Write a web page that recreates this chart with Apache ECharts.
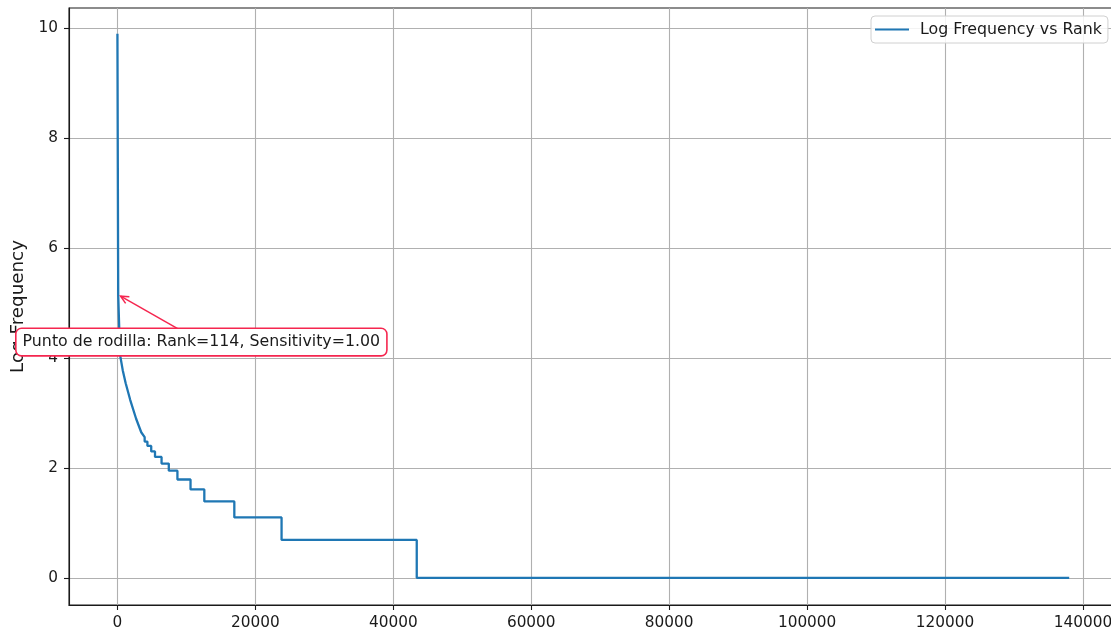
<!DOCTYPE html>
<html>
<head>
<meta charset="utf-8">
<title>Log Frequency vs Rank</title>
<script src="https://cdn.jsdelivr.net/npm/echarts@6/dist/echarts.min.js"></script>
<style>
  html, body { margin: 0; padding: 0; background: #ffffff; }
  #chart { width: 1111px; height: 631px; }
</style>
</head>
<body>
<div id="chart"></div>
<script>
// Head of the rank/frequency curve (rank, natural log of frequency)
const headRanks   = [1,   114,  380,  770,  1200, 1850, 2700, 3450, 3950];
const headLogFreq = [9.9, 5.15, 4.06, 3.78, 3.54, 3.24, 2.90, 2.65, 2.56];

// Tail plateaus: log frequency of each plateau and the last rank it covers
const plateauLogFreq = [2.48, 2.40, 2.30, 2.20, 2.08, 1.95, 1.79, 1.61, 1.39, 1.10, 0.69, 0.00];
const plateauEndRank = [4350, 4900, 5450, 6400, 7450, 8700, 10600, 12600, 16950, 23800, 43400, 138000];

// Knee point annotation
const kneeRank = 114;
const kneeLogFreq = 5.15;
const kneeSensitivity = 1.00;
const kneeLabelAt = [12170, 4.29];

// Axis ticks
const xTicks = [0, 20000, 40000, 60000, 80000, 100000, 120000, 140000];
const yTicks = [0, 2, 4, 6, 8, 10];

const seriesName = 'Log Frequency vs Rank';

// Build the polyline: head points, then each plateau as a flat run with a vertical drop
const curve = headRanks.map((r, i) => [r, headLogFreq[i]]);
let runStart = headRanks[headRanks.length - 1];
plateauLogFreq.forEach((v, i) => {
  curve.push([runStart, v]);
  curve.push([plateauEndRank[i], v]);
  runStart = plateauEndRank[i];
});

const FONT = 'DejaVu Sans';
const INK = '#1a1a1a';
const GRID = '#b0b0b0';
const KNEE_RED = '#f5264f';

const chart = echarts.init(document.getElementById('chart'), null, { renderer: 'canvas' });

chart.setOption({
  animation: false,
  backgroundColor: '#ffffff',
  grid: {
    left: 69, top: 8, width: 1048, height: 597,
    containLabel: false,
    outerBoundsMode: 'none',
    show: true, borderColor: INK, borderWidth: 1.1, backgroundColor: 'transparent'
  },
  legend: {
    data: [seriesName],
    left: 871, top: 16,
    orient: 'horizontal',
    padding: [5, 6, 5, 4],
    icon: 'rect',
    itemWidth: 34, itemHeight: 2,
    backgroundColor: 'rgba(255,255,255,0.85)',
    borderColor: '#d0d0d0', borderWidth: 1, borderRadius: 4,
    textStyle: { fontFamily: FONT, fontSize: 15.8, color: INK, lineHeight: 17, padding: [0, 0, 0, 6] }
  },
  xAxis: {
    type: 'value',
    min: -7020, max: 144930,
    axisLine: { show: true, onZero: false, lineStyle: { color: INK, width: 1.1 } },
    axisTick: { show: true, length: 5, customValues: xTicks, lineStyle: { color: INK, width: 1.1 } },
    axisLabel: {
      customValues: xTicks, formatter: v => String(v),
      fontFamily: FONT, fontSize: 15.3, color: INK, margin: 11
    },
    splitLine: { show: true, lineStyle: { color: GRID, width: 1.1 } }
  },
  yAxis: {
    type: 'value',
    min: -0.494, max: 10.37,
    name: 'Log Frequency',
    nameLocation: 'middle',
    nameGap: 41,
    nameTextStyle: { fontFamily: FONT, fontSize: 18.3, color: INK },
    axisLine: { show: true, onZero: false, lineStyle: { color: INK, width: 1.1 } },
    axisTick: { show: true, length: 5, customValues: yTicks, lineStyle: { color: INK, width: 1.1 } },
    axisLabel: {
      customValues: yTicks, formatter: v => String(v),
      fontFamily: FONT, fontSize: 15.3, color: INK, margin: 11
    },
    splitLine: { show: true, lineStyle: { color: GRID, width: 1.1 } }
  },
  series: [{
    name: seriesName,
    type: 'line',
    data: curve,
    showSymbol: false,
    symbol: 'none',
    color: '#1f77b4',
    lineStyle: { color: '#1f77b4', width: 2.3 },
    clip: true,
    z: 3
  }]
});

// Knee annotation: boxed label with an arrow pointing at the knee on the curve
function drawKnee() {
  const tipData = chart.convertToPixel({ gridIndex: 0 }, [kneeRank, kneeLogFreq]);
  const boxC = chart.convertToPixel({ gridIndex: 0 }, kneeLabelAt);
  const dx = tipData[0] - boxC[0], dy = tipData[1] - boxC[1];
  const len = Math.hypot(dx, dy);
  const ux = dx / len, uy = dy / len;
  const nx = -uy, ny = ux;
  const tip = [tipData[0] - ux * 2.7, tipData[1] - uy * 2.7];
  const headLen = 8, headHalf = 3.8;
  const back = [tip[0] - ux * headLen, tip[1] - uy * headLen];

  chart.setOption({
    graphic: [
      {
        type: 'line', z: 100,
        shape: { x1: boxC[0], y1: boxC[1], x2: tip[0], y2: tip[1] },
        style: { stroke: KNEE_RED, lineWidth: 1.5 }
      },
      {
        type: 'polyline', z: 100,
        shape: { points: [
          [back[0] + nx * headHalf, back[1] + ny * headHalf],
          tip,
          [back[0] - nx * headHalf, back[1] - ny * headHalf]
        ] },
        style: { stroke: KNEE_RED, lineWidth: 1.5, fill: null }
      },
      {
        type: 'text', z: 101,
        x: boxC[0], y: boxC[1],
        style: {
          text: 'Punto de rodilla: Rank=' + kneeRank + ', Sensitivity=' + kneeSensitivity.toFixed(2),
          fontFamily: FONT, fontSize: 15.8, fill: INK,
          align: 'center', verticalAlign: 'middle',
          lineHeight: 18,
          backgroundColor: '#ffffff',
          borderColor: KNEE_RED, borderWidth: 1.6, borderRadius: 5,
          padding: [4, 6, 4, 6]
        }
      }
    ]
  });
}
drawKnee();
</script>
</body>
</html>
